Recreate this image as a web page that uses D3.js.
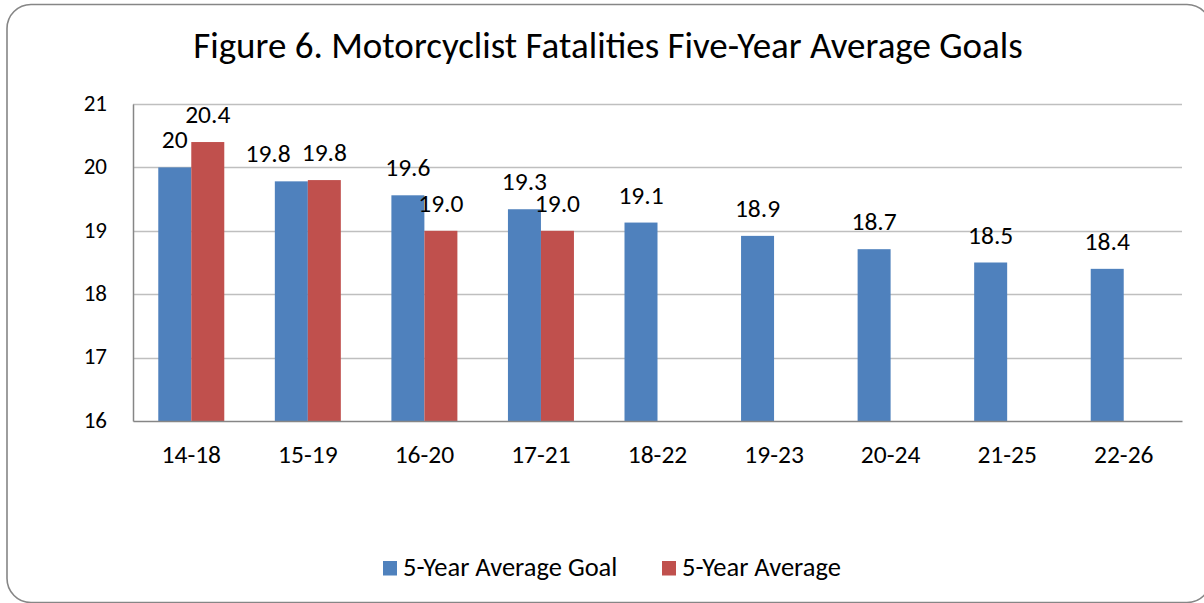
<!DOCTYPE html>
<html>
<head>
<meta charset="utf-8">
<script src="https://cdn.jsdelivr.net/npm/d3@7"></script>
<style>
html,body{margin:0;padding:0;background:#fff;}
svg{display:block;}
text{font-family:Carlito, Lato, "Open Sans", sans-serif;fill:#000;}
</style>
</head>
<body>
<svg id="chart" width="1204" height="603"></svg>
<script>
const title = "Figure 6. Motorcyclist Fatalities Five-Year Average Goals";
const categories = ["14-18","15-19","16-20","17-21","18-22","19-23","20-24","21-25","22-26"];
const seriesNames = ["5-Year Average Goal","5-Year Average"];
const goalValues = [20, 19.78, 19.56, 19.34, 19.13, 18.92, 18.71, 18.5, 18.4];
const goalLabels = ["20","19.8","19.6","19.3","19.1","18.9","18.7","18.5","18.4"];
const avgValues = [20.4, 19.8, 19.0, 19.0, null, null, null, null, null];
const avgLabels = ["20.4","19.8","19.0","19.0",null,null,null,null,null];
const yTicks = [16,17,18,19,20,21];
const colors = ["#4F81BD","#C0504D"];

const svg = d3.select("#chart");

// outer rounded border
svg.append("rect")
  .attr("x",7).attr("y",4.5).attr("width",1204).attr("height",598)
  .attr("rx",24).attr("ry",24)
  .attr("fill","#fff").attr("stroke","#868686").attr("stroke-width",1.6);

const plot = {left:133, right:1182, top:104, bottom:421};

const x = d3.scaleBand().domain(categories).range([plot.left, plot.right]).paddingInner(0).paddingOuter(0);
const barW = 33;
const y = d3.scaleLinear().domain([16,21]).range([plot.bottom, plot.top]);

// title
svg.append("text")
  .attr("x", 608).attr("y", 58)
  .attr("text-anchor","middle")
  .style("font-size","37px")
  .text(title);

// gridlines
svg.append("g").selectAll("line").data(yTicks.filter(d=>d>16)).join("line")
  .attr("x1",plot.left).attr("x2",plot.right)
  .attr("y1",d=>Math.round(y(d))+0.5).attr("y2",d=>Math.round(y(d))+0.5)
  .attr("stroke","#BFBFBF").attr("stroke-width",1.5);

// y axis
const yAxis = d3.axisLeft(y).tickValues(yTicks).tickSize(0).tickPadding(26).tickFormat(d3.format("d"));
const gy = svg.append("g").attr("transform",`translate(${plot.left},0)`).call(yAxis);
gy.select(".domain").attr("stroke","#868686").attr("stroke-width",1.5);
gy.selectAll("text").style("font-size","23px").attr("dy","0.27em");

// bars
const labelSize = 25.5;
const series = [
  {name:seriesNames[0], values:goalValues, labels:goalLabels, color:colors[0], off:-barW},
  {name:seriesNames[1], values:avgValues, labels:avgLabels, color:colors[1], off:0}
];
const labelSel = [];
series.forEach(s=>{
  const data = categories.map((c,i)=>({c, v:s.values[i], l:s.labels[i]})).filter(d=>d.v!=null);
  svg.append("g").selectAll("rect").data(data).join("rect")
    .attr("x",d=>x(d.c)+x.bandwidth()/2+s.off)
    .attr("width",barW)
    .attr("y",d=>y(d.v))
    .attr("height",d=>y(16)-y(d.v))
    .attr("fill",s.color);
  labelSel.push(svg.append("g").selectAll("text").data(data).join("text")
    .attr("x",d=>x(d.c)+x.bandwidth()/2+s.off+barW/2)
    .attr("y",d=>y(d.v)-19)
    .attr("text-anchor","middle")
    .style("font-size",labelSize+"px")
    .text(d=>d.l));
});

// simple label collision avoidance: push goal label left when its digits overlap the average label
const digitH = labelSize*0.66;
const avgBoxes = {};
labelSel[1].each(function(d){ const b=this.getBBox(); avgBoxes[d.c] = {x:b.x, w:b.width, base:+d3.select(this).attr("y")}; });
labelSel[0].each(function(d){
  const b = this.getBBox(), a = avgBoxes[d.c];
  if(!a) return;
  const base = +d3.select(this).attr("y");
  const vOverlap = Math.abs(base - a.base) < digitH;
  const gap = 11;
  if(vOverlap && b.x + b.width + gap > a.x){
    const shift = b.x + b.width + gap - a.x;
    d3.select(this).attr("x", +d3.select(this).attr("x") - shift);
  }
});

// x axis
const xAxis = d3.axisBottom(x).tickSize(0);
const gx = svg.append("g").attr("transform",`translate(0,${plot.bottom})`).call(xAxis);
gx.select(".domain").attr("stroke","#868686").attr("stroke-width",1.5);
gx.selectAll("text").style("font-size","25.5px").attr("y",42).attr("dy",0);

// legend
const legend = svg.append("g");
const legItems = [{x:383, name:seriesNames[0], color:colors[0]},{x:662, name:seriesNames[1], color:colors[1]}];
legItems.forEach(it=>{
  legend.append("rect").attr("x",it.x).attr("y",561).attr("width",14).attr("height",14.5).attr("fill",it.color);
  legend.append("text").attr("x",it.x+20).attr("y",576).style("font-size","26.5px").text(it.name);
});
</script>
</body>
</html>
